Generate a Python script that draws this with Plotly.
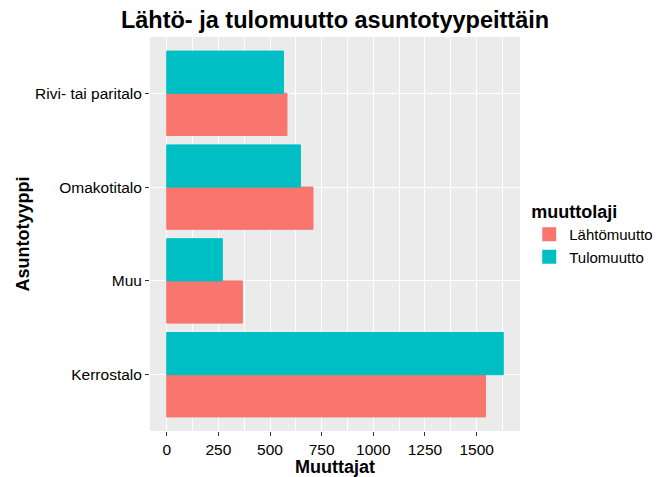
import plotly.graph_objects as go

categories = ["Kerrostalo", "Muu", "Omakotitalo", "Rivi- tai paritalo"]
lahto = [1543, 366, 708, 582]
tulo = [1629, 269, 647, 565]
series_names = ["Lähtömuutto", "Tulomuutto"]
x_ticks = [0, 250, 500, 750, 1000, 1250, 1500]

FONT = "Liberation Sans, Arial, sans-serif"

fig = go.Figure()
fig.add_trace(go.Bar(y=categories, x=lahto, name=series_names[0], orientation="h",
                     marker=dict(color="#F8766D", line=dict(width=1, color="#F8766D"))))
fig.add_trace(go.Bar(y=categories, x=tulo, name=series_names[1], orientation="h",
                     marker=dict(color="#00BFC4", line=dict(width=1, color="#00BFC4"))))

fig.update_layout(
    width=662, height=477,
    margin=dict(l=150, r=142, t=37, b=46, autoexpand=False),
    paper_bgcolor="white", plot_bgcolor="#EBEBEB",
    barmode="group", bargap=0.1, bargroupgap=0,
    font=dict(family=FONT, color="black"),
    title=dict(text="<b>Lähtö- ja tulomuutto asuntotyypeittäin</b>",
               x=0.5, xref="paper", xanchor="center",
               y=1 - 20 / 477, yref="container", yanchor="middle",
               font=dict(size=23.5, family=FONT, color="black")),
    legend=dict(x=1.025, xanchor="left", y=0.5, yanchor="middle",
                title=dict(text="<b>muuttolaji</b>", font=dict(size=18)),
                font=dict(size=15), traceorder="normal",
                itemsizing="constant", itemwidth=30),
    showlegend=True,
)

fig.update_xaxes(
    range=[-81, 1710], tickvals=x_ticks, ticktext=[str(v) for v in x_ticks],
    showgrid=True, gridcolor="white", gridwidth=1.1,
    minor=dict(dtick=125, tick0=125, showgrid=True, gridcolor="white", gridwidth=0.5),
    zeroline=False, ticks="outside", ticklen=4, tickcolor="#333333", tickwidth=1,
    tickfont=dict(size=15.5, color="black"),
    title=dict(text="<b>Muuttajat</b>", font=dict(size=18), standoff=4),
    showline=False, automargin=False,
)
fig.update_yaxes(
    categoryorder="array", categoryarray=categories, range=[-0.6, 3.6],
    showgrid=True, gridcolor="white", gridwidth=1.1,
    zeroline=False, ticks="outside", ticklen=4, tickcolor="#333333", tickwidth=1,
    tickfont=dict(size=15.5, color="black"),
    title=dict(text="<b>Asuntotyyppi</b>", font=dict(size=18), standoff=0),
    showline=False, automargin=False,
)

fig.write_html("out.html")
